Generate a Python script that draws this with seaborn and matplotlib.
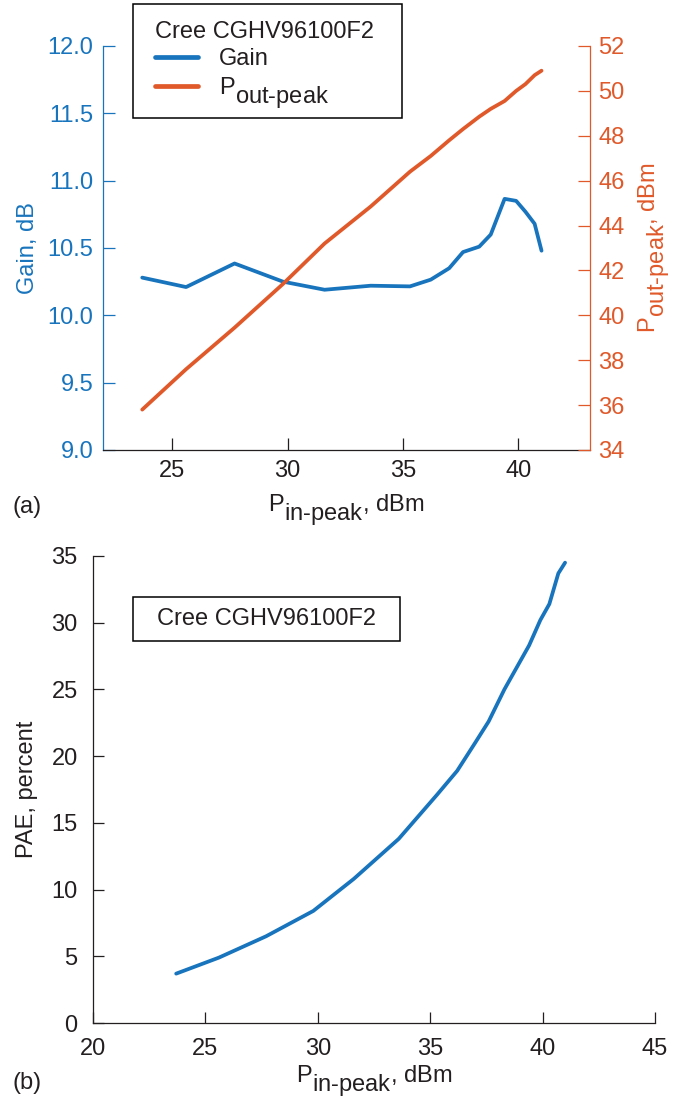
import matplotlib
matplotlib.use("Agg")
import matplotlib.pyplot as plt
import matplotlib._mathtext as _mt
from matplotlib.patches import Rectangle
import pandas as pd
import seaborn as sns

# ---------------- data ----------------
pin = [23.7, 25.6, 27.7, 29.8, 31.6, 33.6, 35.3, 36.2, 37.0, 37.6,
       38.3, 38.8, 39.4, 39.9, 40.3, 40.7, 41.0]
gain = [10.28, 10.21, 10.385, 10.25, 10.19, 10.22, 10.215, 10.265, 10.35, 10.47,
        10.51, 10.60, 10.865, 10.85, 10.77, 10.68, 10.48]
pout = [35.8, 37.6, 39.45, 41.4, 43.2, 44.85, 46.4, 47.1, 47.8, 48.3,
        48.85, 49.2, 49.55, 50.0, 50.3, 50.7, 50.9]
pae = [3.7, 4.9, 6.5, 8.4, 10.8, 13.8, 17.1, 18.9, 21.0, 22.6,
       25.0, 26.5, 28.3, 30.2, 31.4, 33.7, 34.5]

gain_ticks = [9.0, 9.5, 10.0, 10.5, 11.0, 11.5, 12.0]
pout_ticks = [34, 36, 38, 40, 42, 44, 46, 48, 50, 52]
xa_ticks = [25, 30, 35, 40]
xb_ticks = [20, 25, 30, 35, 40, 45]
pae_ticks = [0, 5, 10, 15, 20, 25, 30, 35]

device = "Cree CGHV96100F2"
HY = "\u2010"
lbl_gain = "Gain"
lbl_pout = "P$_{\\mathrm{out" + HY + "peak}}$"
lbl_pin = "P$_{\\mathrm{in" + HY + "peak}}$, dBm"

df = pd.DataFrame({"pin": pin, "gain": gain, "pout": pout, "pae": pae})

# ---------------- style ----------------
sns.set_theme(style="white")
_mt.SHRINK_FACTOR = 1.0           # full-size subscripts like the reference
_mt.FontConstantsBase.sub1 = 0.75  # deeper subscript drop
plt.rcParams["font.family"] = ["Liberation Sans", "DejaVu Sans"]
plt.rcParams["mathtext.fontset"] = "custom"
plt.rcParams["mathtext.rm"] = "Liberation Sans"
plt.rcParams["mathtext.it"] = "Liberation Sans:italic"
plt.rcParams["mathtext.bf"] = "Liberation Sans:bold"
plt.rcParams["mathtext.sf"] = "Liberation Sans"

BLUE = "#1874bd"
ORANGE = "#e0592a"
DARK = "#231f20"
FS = 17
LW = 2.7
SPW = 0.9

fig = plt.figure(figsize=(6.77, 11.03), dpi=100)
W, H = 677, 1103

# ---------------- panel (a) ----------------
ax1 = fig.add_axes([103 / W, 1 - 450 / H, 487 / W, 404 / H])
ax2 = ax1.twinx()
sns.lineplot(data=df, x="pin", y="gain", ax=ax1, color=BLUE, lw=LW,
             label=lbl_gain, legend=False)
sns.lineplot(data=df, x="pin", y="pout", ax=ax2, color=ORANGE, lw=LW,
             label=lbl_pout, legend=False)

ax1.set_xlim(22, 43.1)
ax1.set_ylim(9, 12)
ax2.set_ylim(34, 52)
ax1.set_xticks(xa_ticks)
ax1.set_yticks(gain_ticks)
ax2.set_yticks(pout_ticks)
ax1.set_yticklabels([f"{v:.1f}" for v in gain_ticks])
ax2.set_yticklabels([str(v) for v in pout_ticks])

for a in (ax1, ax2):
    for s in a.spines.values():
        s.set_linewidth(SPW)
    a.spines["top"].set_visible(False)
    a.grid(False)
ax1.spines["right"].set_visible(False)
ax2.spines["left"].set_visible(False)
ax2.spines["bottom"].set_visible(False)
ax1.spines["left"].set_color(BLUE)
ax1.spines["bottom"].set_color(DARK)
ax2.spines["right"].set_color(ORANGE)

ax1.tick_params(axis="x", direction="in", length=8.5, width=SPW, colors=DARK,
                labelsize=FS, pad=7, bottom=True)
ax1.tick_params(axis="y", direction="in", length=8.5, width=SPW, colors=BLUE,
                labelsize=FS, pad=7, left=True)
ax2.tick_params(axis="y", direction="in", length=8.5, width=SPW, colors=ORANGE,
                labelsize=FS, pad=6, right=True)

ax1.set_xlabel(lbl_pin, fontsize=FS, color=DARK)
ax1.xaxis.set_label_coords(0.5, -0.105)
ax1.set_ylabel("Gain, dB", fontsize=FS, color=BLUE)
ax1.yaxis.set_label_coords(-0.132, 0.5)
ax2.set_ylabel("P$_{\\mathrm{out" + HY + "peak}}$, dBm", fontsize=FS, color=ORANGE)
ax2.yaxis.set_label_coords(1.094, 0.5)

# legend frame drawn as an exact box, legend content placed inside it
fig.add_artist(Rectangle((133 / W, 1 - 118 / H), 269 / W, 114 / H,
                         transform=fig.transFigure, fc="white", ec="black",
                         lw=1.1, zorder=5))
h1, l1 = ax1.get_legend_handles_labels()
h2, l2 = ax2.get_legend_handles_labels()
leg = fig.legend(h1 + h2, l1 + l2, title=device, loc="upper left",
                 bbox_to_anchor=(140 / W, 1 - 6 / H), bbox_transform=fig.transFigure,
                 borderaxespad=0, fontsize=FS, title_fontsize=FS, frameon=False,
                 handlelength=1.8, handletextpad=0.9, labelspacing=0.2,
                 borderpad=0.65, alignment="left")
leg.set_zorder(6)
leg.get_title().set_color(DARK)
for t in leg.get_texts():
    t.set_color(DARK)
for ln in leg.get_lines():
    ln.set_linewidth(3.4)

fig.text(13 / W, 1 - 507 / H, "(a)", fontsize=FS, color=DARK, va="center", ha="left")

# ---------------- panel (b) ----------------
ax3 = fig.add_axes([93 / W, 1 - 1023 / H, 562 / W, 467 / H])
sns.lineplot(data=df, x="pin", y="pae", ax=ax3, color=BLUE, lw=LW, legend=False)
ax3.set_xlim(20, 45)
ax3.set_ylim(0, 35)
ax3.set_xticks(xb_ticks)
ax3.set_yticks(pae_ticks)
ax3.grid(False)
ax3.spines["top"].set_visible(False)
ax3.spines["right"].set_visible(False)
for s in ax3.spines.values():
    s.set_linewidth(SPW)
    s.set_color(DARK)
ax3.tick_params(axis="both", direction="in", length=8, width=SPW, colors=DARK,
                labelsize=FS, pad=11, left=True, bottom=True)
ax3.set_xlabel(lbl_pin, fontsize=FS, color=DARK)
ax3.xaxis.set_label_coords(0.5, -0.087)
ax3.set_ylabel("PAE, percent", fontsize=FS, color=DARK)
ax3.yaxis.set_label_coords(-0.097, 0.5)

ax3.add_patch(Rectangle((0.0712, 0.818), 0.4751, 0.094, transform=ax3.transAxes,
                        fc="white", ec="black", lw=1.1, zorder=3))
ax3.text(0.3087, 0.865, device, transform=ax3.transAxes, fontsize=FS, color=DARK,
         ha="center", va="center", zorder=4)

fig.text(13 / W, 1 - 1083 / H, "(b)", fontsize=FS, color=DARK, va="center", ha="left")

fig.savefig("out.png", dpi=100)
